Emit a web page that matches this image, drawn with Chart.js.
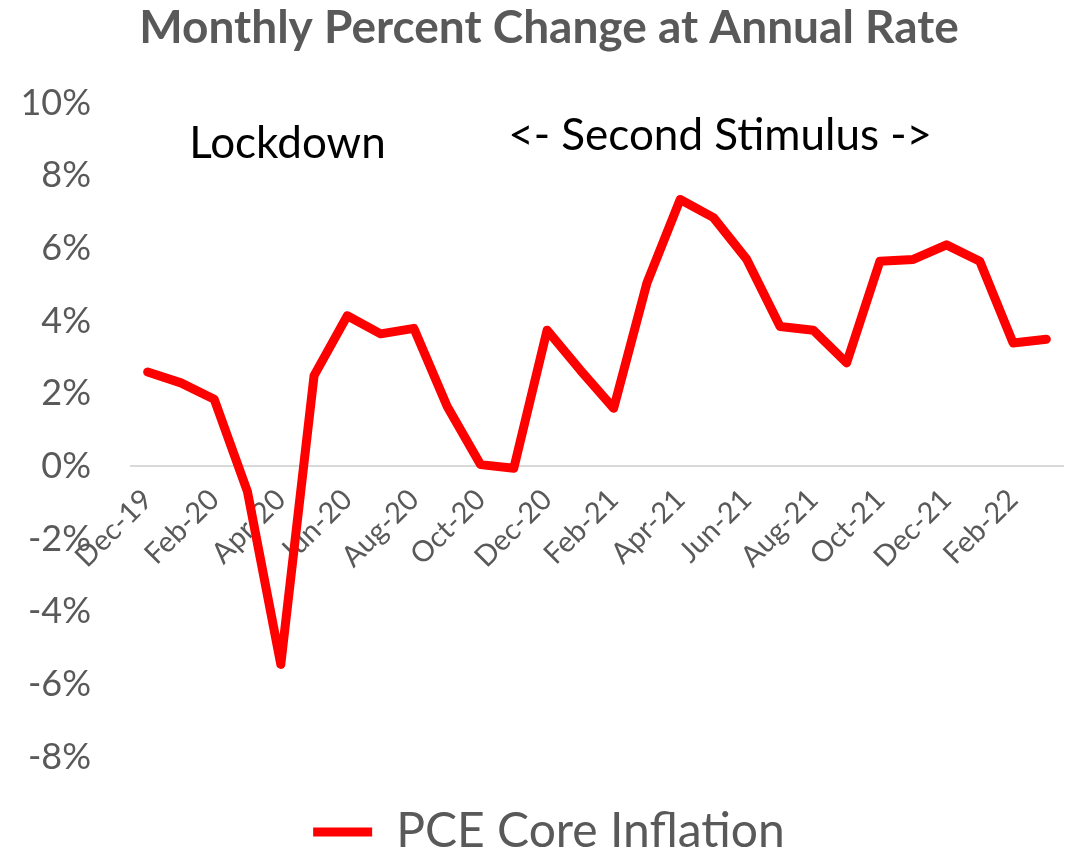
<!DOCTYPE html>
<html><head><meta charset="utf-8">
<script src="https://cdn.jsdelivr.net/npm/chart.js@4/dist/chart.umd.min.js"></script>
<style>html,body{margin:0;padding:0;background:#fff;overflow:hidden}</style>
</head><body>
<canvas id="c" width="1078" height="851"></canvas>
<script>
const months = ['Dec-19','Jan-20','Feb-20','Mar-20','Apr-20','May-20','Jun-20','Jul-20','Aug-20','Sep-20','Oct-20','Nov-20',
  'Dec-20','Jan-21','Feb-21','Mar-21','Apr-21','May-21','Jun-21','Jul-21','Aug-21','Sep-21','Oct-21','Nov-21',
  'Dec-21','Jan-22','Feb-22','Mar-22'];
const pceCore = [2.6, 2.3, 1.85, -0.7, -5.45, 2.5, 4.15, 3.65, 3.8, 1.65, 0.05, -0.05,
  3.75, 2.65, 1.6, 5.05, 7.35, 6.85, 5.7, 3.85, 3.75, 2.85, 5.65, 5.7,
  6.1, 5.65, 3.4, 3.5];
const yTicks = [-8, -6, -4, -2, 0, 2, 4, 6, 8, 10];
const labeledMonths = ['Dec-19','Feb-20','Apr-20','Jun-20','Aug-20','Oct-20','Dec-20','Feb-21','Apr-21','Jun-21','Aug-21','Oct-21','Dec-21','Feb-22'];
const seriesName = 'PCE Core Inflation';
const titleText = 'Monthly Percent Change at Annual Rate';
const annotationTexts = ['Lockdown', '<- Second Stimulus ->'];
const annotationAt = [[4.2, 8.5], [17.2, 8.7]]; // [category index, value]

const FONT = 'Lato, "Open Sans", sans-serif';
const GREY = '#595959';

const annotationPlugin = {
  id: 'notes',
  afterDraw(chart) {
    const ctx = chart.ctx, xs = chart.scales.x, ys = chart.scales.y;
    ctx.save();
    ctx.font = '44px ' + FONT;
    ctx.fillStyle = '#000';
    ctx.textAlign = 'center';
    ctx.textBaseline = 'alphabetic';
    annotationTexts.forEach((t, i) => {
      ctx.fillText(t, xs.getPixelForValue(annotationAt[i][0]), ys.getPixelForValue(annotationAt[i][1]));
    });
    ctx.restore();
  }
};

new Chart(document.getElementById('c'), {
  type: 'line',
  data: {
    labels: months,
    datasets: [{
      label: seriesName,
      data: pceCore,
      borderColor: '#ff0000',
      backgroundColor: '#ff0000',
      borderWidth: 9,
      borderJoinStyle: 'round',
      borderCapStyle: 'round',
      pointRadius: 0,
      tension: 0,
      fill: false
    }]
  },
  options: {
    responsive: false,
    animation: false,
    devicePixelRatio: 1,
    layout: { padding: { left: 20, right: 0, top: 0, bottom: -15 } },
    plugins: {
      title: {
        display: true, text: titleText, color: GREY,
        font: { family: FONT, size: 46, weight: 'bold', lineHeight: 1.2 },
        padding: { top: 1, bottom: 47 }
      },
      legend: {
        display: true, position: 'bottom',
        title: { display: false },
        labels: {
          color: GREY, font: { family: FONT, size: 48 },
          usePointStyle: true, pointStyle: 'line', pointStyleWidth: 59,
          padding: 51
        }
      },
      tooltip: { enabled: false }
    },
    scales: {
      x: {
        type: 'category',
        position: { y: 0 },
        offset: true,
        afterFit: s => { s.paddingLeft = 0; s.paddingRight = 15; },
        grid: { display: false, drawTicks: false },
        border: { display: true, color: '#d9d9d9', width: 2 },
        ticks: {
          autoSkip: false, minRotation: 45, maxRotation: 45,
          color: GREY, font: { family: FONT, size: 29 }, padding: 16,
          callback: (v, i) => labeledMonths.includes(months[i]) ? months[i] : ''
        }
      },
      y: {
        min: -8, max: 10,
        afterBuildTicks: s => { s.ticks = yTicks.map(v => ({ value: v })); },
        afterFit: s => { s.width = 111; },
        grid: { display: false, drawTicks: false },
        border: { display: false },
        ticks: {
          color: GREY, font: { family: FONT, size: 36 }, padding: 40,
          callback: v => v + '%'
        }
      }
    }
  },
  plugins: [annotationPlugin]
});
</script>
</body></html>
